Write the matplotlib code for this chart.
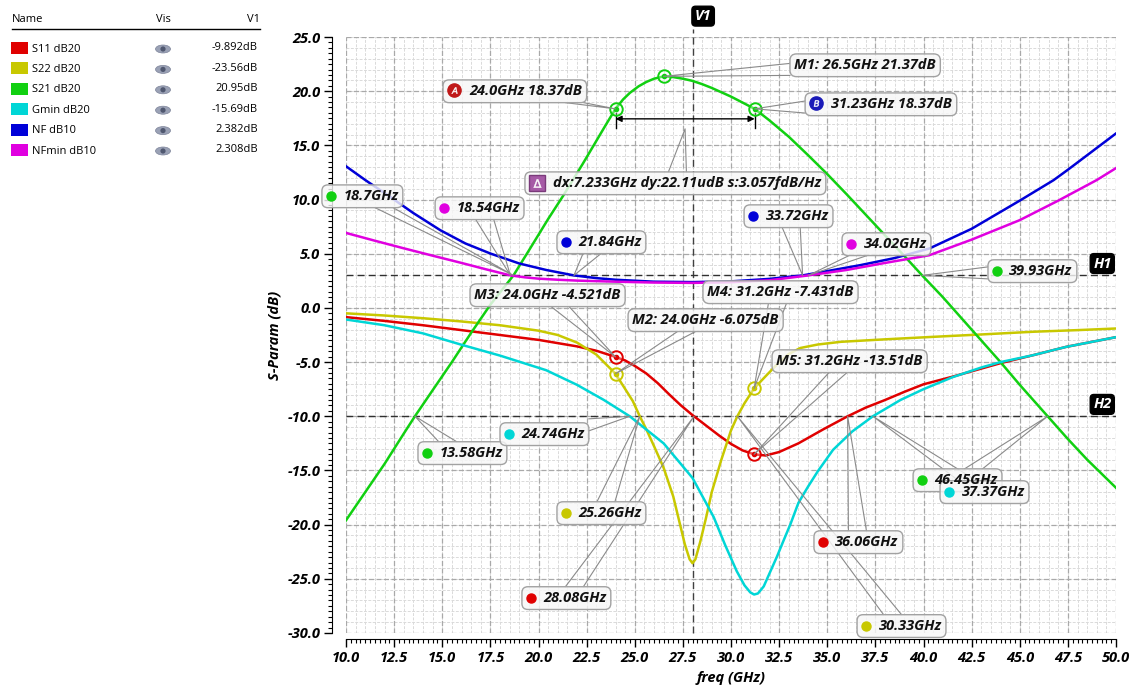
import numpy as np
import matplotlib.pyplot as plt
from matplotlib.ticker import MultipleLocator, FormatStrFormatter
from matplotlib.patches import Rectangle, Ellipse, Circle, FancyBboxPatch

plt.rcParams['font.family'] = ['Open Sans', 'DejaVu Sans']

# ---- traces (freq in GHz, value in dB) ----
s11_f = [10.0, 12.0, 14.0, 16.0, 18.0, 20.0, 22.0, 23.0, 24.0, 24.5, 25.0, 25.6, 26.2,
         26.8, 27.4, 28.0, 28.7, 29.4, 30.0, 30.6, 31.2, 31.8, 32.5, 33.5, 34.8, 36.06,
         37.0, 38.0, 39.0, 40.0, 41.5, 43.0, 44.0, 45.7, 47.4, 50.0]
s11_db = [-0.85, -1.2, -1.6, -2.05, -2.5, -2.95, -3.55, -3.95, -4.521, -4.85, -5.35, -6.05,
          -6.95, -8.0, -9.0, -9.892, -10.85, -11.8, -12.55, -13.15, -13.51, -13.62, -13.3,
          -12.5, -11.2, -10.0, -9.2, -8.5, -7.75, -7.05, -6.35, -5.6, -5.1, -4.36, -3.6,
          -2.7]

s22_f = [10.0, 12.0, 14.0, 16.0, 18.0, 20.0, 21.0, 22.0, 23.0, 24.0, 24.9, 25.26, 25.6,
         26.0, 26.5, 27.0, 27.3, 27.6, 27.85, 28.0, 28.15, 28.4, 28.7, 29.0, 29.5, 30.0,
         30.33, 30.7, 31.2, 31.8, 32.4, 33.0, 33.6, 34.5, 35.7, 38.0, 40.5, 43.0, 45.7,
         48.0, 50.0]
s22_db = [-0.5, -0.7, -0.95, -1.25, -1.6, -2.1, -2.5, -3.2, -4.3, -6.075, -8.6, -10.0,
          -11.2, -12.75, -14.75, -17.4, -19.6, -21.8, -23.2, -23.56, -23.2, -21.6, -19.4,
          -17.0, -14.0, -11.3, -10.0, -8.8, -7.431, -6.3, -5.2, -4.25, -3.7, -3.38, -3.13,
          -2.9, -2.67, -2.45, -2.2, -2.05, -1.9]

s21_f = [10.0, 11.0, 12.0, 13.0, 13.58, 14.5, 15.5, 16.5, 17.5, 18.7, 19.5, 20.5, 21.3,
         22.3, 23.0, 23.5, 24.0, 24.4, 24.75, 25.2, 25.6, 26.0, 26.5, 27.0, 27.5, 28.0,
         28.5, 29.0, 29.5, 30.0, 30.6, 31.23, 32.0, 33.0, 34.0, 35.0, 36.0, 37.0, 38.0,
         39.0, 39.93, 41.0, 42.5, 44.0, 45.0, 46.45, 47.5, 48.5, 50.0]
s21_db = [-19.6, -17.0, -14.4, -11.6, -10.0, -7.6, -5.0, -2.3, 0.3, 3.0, 5.3, 8.2, 10.4,
          13.3, 15.4, 16.9, 18.37, 19.25, 19.85, 20.45, 20.85, 21.15, 21.37, 21.3, 21.15,
          20.95, 20.65, 20.3, 19.9, 19.5, 18.95, 18.37, 17.3, 15.8, 14.1, 12.35, 10.5, 8.6,
          6.7, 4.8, 3.0, 1.0, -2.0, -5.0, -7.1, -10.0, -12.1, -14.0, -16.6]

gmin_f = [10.0, 12.0, 14.0, 15.2, 16.0, 18.0, 20.4, 22.0, 23.4, 24.74, 26.5, 28.0, 29.1,
          29.7, 30.3, 30.7, 31.0, 31.2, 31.4, 31.7, 32.0, 32.4, 32.7, 33.1, 33.5, 34.0,
          34.5, 35.3, 36.3, 37.37, 38.8, 40.0, 41.5, 43.0, 44.0, 45.7, 47.4, 50.0]
gmin_db = [-1.07, -1.6, -2.35, -2.98, -3.4, -4.4, -5.75, -7.1, -8.5, -10.0, -12.5, -15.69,
           -19.3, -21.9, -24.3, -25.6, -26.25, -26.45, -26.35, -25.7, -24.5, -22.9, -21.6,
           -19.9, -18.0, -16.5, -15.1, -13.1, -11.4, -10.0, -8.5, -7.5, -6.4, -5.5, -5.0,
           -4.36, -3.6, -2.7]

nf_f = [10.0, 11.0, 12.3, 13.5, 14.9, 16.2, 17.5, 19.0, 20.4, 21.84, 23.0, 24.0, 26.0,
        28.0, 30.0, 32.0, 33.72, 35.0, 36.7, 38.5, 40.3, 42.5, 45.0, 46.75, 47.5, 50.0]
nf_db = [13.07, 11.8, 10.24, 8.75, 7.17, 5.95, 5.02, 4.1, 3.5, 3.0, 2.75, 2.6, 2.42,
         2.382, 2.45, 2.68, 3.0, 3.4, 3.94, 4.6, 5.48, 7.3, 9.9, 11.78, 12.75, 16.1]

nfmin_f = [10.0, 11.5, 13.0, 14.5, 16.0, 17.3, 18.54, 19.3, 20.0, 21.0, 22.0, 24.0, 26.0,
           28.0, 30.0, 32.0, 34.02, 36.0, 38.0, 40.3, 42.5, 45.0, 47.0, 49.0, 50.0]
nfmin_db = [6.92, 6.2, 5.5, 4.82, 4.15, 3.55, 3.0, 2.82, 2.7, 2.6, 2.52, 2.42, 2.34,
            2.308, 2.37, 2.55, 3.0, 3.5, 4.15, 4.86, 6.3, 8.1, 9.9, 11.8, 12.9]

trace_names = ['S11 dB20', 'S22 dB20', 'S21 dB20', 'Gmin dB20', 'NF dB10', 'NFmin dB10']
trace_colors = ['#e00000', '#c8c800', '#11d011', '#00d6d6', '#0000d8', '#e000e0']
trace_freqs = [s11_f, s22_f, s21_f, gmin_f, nf_f, nfmin_f]
trace_vals = [s11_db, s22_db, s21_db, gmin_db, nf_db, nfmin_db]
v1_readout = ['-9.892dB', '-23.56dB', '20.95dB', '-15.69dB', '2.382dB', '2.308dB']

v1_freq = 28.0
h1_level = 3.0
h2_level = -10.0

# point markers: name, freq, value, trace index
point_names = ['M1', 'A', 'B', 'M3', 'M2', 'M4', 'M5']
point_freqs = [26.5, 24.0, 31.23, 24.0, 24.0, 31.2, 31.2]
point_vals = [21.37, 18.37, 18.37, -4.521, -6.075, -7.431, -13.51]
point_trace = [2, 2, 2, 0, 1, 1, 0]

# level crossings on H1 / H2: freq, level, trace index
cross_freqs = [18.7, 18.54, 21.84, 33.72, 34.02, 39.93,
               13.58, 24.74, 25.26, 28.08, 36.06, 46.45, 37.37, 30.33]
cross_levels = [3, 3, 3, 3, 3, 3, -10, -10, -10, -10, -10, -10, -10, -10]
cross_trace = [2, 5, 4, 4, 5, 2, 2, 3, 1, 0, 0, 2, 3, 1]

delta_text = 'dx:7.233GHz dy:22.11udB s:3.057fdB/Hz'

# text anchors (start of text, vertical centre) in axis units
point_label_pos = [(33.29, 22.39), (16.41, 19.99), (35.22, 18.79), (16.67, 1.17),
                   (24.88, -1.13), (28.77, 1.45), (32.36, -4.92)]
cross_label_pos = [(9.86, 10.3), (15.74, 9.2), (22.07, 6.06), (31.79, 8.46), (36.88, 5.88),
                   (44.46, 3.39), (14.85, -13.4), (19.11, -11.65), (22.07, -18.94),
                   (20.25, -26.78), (35.42, -21.62), (40.57, -15.9), (41.97, -17.0),
                   (37.66, -29.36)]
delta_label_pos = (20.77, 11.5)

W, H = 1135, 693
fig = plt.figure(figsize=(W / 100, H / 100), dpi=100)
fig.patch.set_facecolor('white')

# left-hand trace table drawn in pixel units
tbl = fig.add_axes([0, 0, 1, 1], zorder=0)
tbl.set_xlim(0, W)
tbl.set_ylim(H, 0)
tbl.axis('off')
tbl.text(12, 19, 'Name', fontsize=8, va='center')
tbl.text(163, 19, 'Vis', fontsize=8, va='center', ha='center')
tbl.text(260, 19, 'V1', fontsize=8, va='center', ha='right')
tbl.plot([12, 260], [29, 29], color='black', lw=1)
for i, (name, col, val) in enumerate(zip(trace_names, trace_colors, v1_readout)):
    yr = 48 + i * 20.4
    tbl.add_patch(Rectangle((11, yr - 6), 17, 12, facecolor=col, edgecolor='none'))
    tbl.text(32, yr + 1, name, fontsize=8, va='center')
    tbl.add_patch(Ellipse((163, yr + 1), 15, 8, facecolor='#9aa1b5', edgecolor='#7d849a', lw=0.5))
    tbl.add_patch(Circle((163, yr + 1), 2.6, facecolor='#505870', edgecolor='none'))
    tbl.text(258, yr, val, fontsize=8, va='center', ha='right')

ax = fig.add_axes([346 / W, 1 - 633 / H, 770 / W, 596 / H], zorder=1)
ax.set_xlim(10, 50)
ax.set_ylim(-30, 25)
ax.xaxis.set_major_locator(MultipleLocator(2.5))
ax.xaxis.set_minor_locator(MultipleLocator(0.25))
ax.yaxis.set_major_locator(MultipleLocator(5))
ax.yaxis.set_minor_locator(MultipleLocator(0.5))
ax.xaxis.set_major_formatter(FormatStrFormatter('%.1f'))
ax.yaxis.set_major_formatter(FormatStrFormatter('%.1f'))
for s in ['top', 'right']:
    ax.spines[s].set_visible(False)
ax.spines['left'].set_position(('outward', 10))
ax.spines['bottom'].set_position(('outward', 4.5))
ax.tick_params(which='major', direction='out', length=5.5, width=1, labelsize=10.5, pad=3)
ax.tick_params(which='minor', direction='out', length=3, width=0.8)
for lbl in ax.get_xticklabels() + ax.get_yticklabels():
    lbl.set_fontweight('bold')
    lbl.set_fontstyle('italic')

# background grid
for v in np.arange(10, 50.01, 0.5):
    ax.axvline(v, color='#dadada', lw=0.7, ls=(0, (3, 1.5)), zorder=0)
for v in np.arange(-30, 25.01, 1.0):
    ax.axhline(v, color='#dadada', lw=0.7, ls=(0, (3, 1.5)), zorder=0)
for v in np.arange(10, 50.01, 2.5):
    ax.axvline(v, color='#a9a9a9', lw=0.9, ls=(0, (4, 2)), zorder=0.5)
for v in np.arange(-30, 25.01, 5.0):
    ax.axhline(v, color='#a9a9a9', lw=0.9, ls=(0, (4, 2)), zorder=0.5)

ax.set_xlabel('freq (GHz)', fontsize=10.5, fontweight='bold', fontstyle='italic', labelpad=4)
ax.set_ylabel('S-Param (dB)', fontsize=10.5, fontweight='bold', fontstyle='italic', labelpad=4)

for f, v, c in zip(trace_freqs, trace_vals, trace_colors):
    ax.plot(f, v, color=c, lw=1.8, zorder=3, solid_joinstyle='round')

# cursors
ax.axvline(v1_freq, ymin=0, ymax=1.014, color='#404040', lw=1, ls=(0, (5, 3)), zorder=2,
           clip_on=False)
ax.axhline(h1_level, color='#303030', lw=1, ls=(0, (5, 3)), zorder=2)
ax.axhline(h2_level, color='#303030', lw=1, ls=(0, (5, 3)), zorder=2)
tag = dict(boxstyle='round,pad=0.2,rounding_size=0.25', facecolor='black', edgecolor='black')
ax.text(v1_freq + 0.12, 1.035, 'V1', transform=ax.get_xaxis_transform(), color='white',
        fontsize=10.5, fontweight='bold', fontstyle='italic', ha='left', va='center',
        bbox=tag, clip_on=False)
for lvl, name in [(h1_level, 'H1'), (h2_level, 'H2')]:
    ax.text(0.994, lvl + 0.45, name, transform=ax.get_yaxis_transform(), color='white',
            fontsize=10.5, fontweight='bold', fontstyle='italic', ha='right', va='bottom',
            bbox=tag, clip_on=False, zorder=7)

# marker rings
for f, v, ti in zip(point_freqs, point_vals, point_trace):
    c = trace_colors[ti]
    ax.plot(f, v, 'o', ms=9, mfc=(1, 1, 1, 0.35), mec=c, mew=1.4, zorder=4.5)
    ax.plot(f, v, 'o', ms=3, mfc=c, mec=c, zorder=4.6)

box_face = (0.97, 0.97, 0.97, 0.82)
box_style = dict(boxstyle='round,pad=0.3,rounding_size=0.45', facecolor=box_face,
                 edgecolor='#a2a2a2', lw=1)
txt_kw = dict(fontsize=10.5, fontweight='bold', fontstyle='italic', ha='left', va='center',
              zorder=5, clip_on=False, color='#111111')

labels = []  # (text artist, target, icon kind, colour, left room in px)
for name, f, v, ti, pos in zip(point_names, point_freqs, point_vals, point_trace, point_label_pos):
    if name in ('A', 'B'):
        s = '%.4gGHz %.4gdB' % (f, v)
        s = s.replace('24GHz', '24.0GHz')
        icon, room = name, 22
    else:
        s = '%s: %.1fGHz %.4gdB' % (name, f, v)
        icon, room = None, 0
    t = ax.text(pos[0], pos[1], s, bbox=dict(box_style), **txt_kw)
    labels.append((t, (f, v), icon, '#c01818' if name == 'A' else '#1a1ab8', room))

for f, lvl, ti, pos in zip(cross_freqs, cross_levels, cross_trace, cross_label_pos):
    t = ax.text(pos[0], pos[1], '%gGHz' % f, bbox=dict(box_style), **txt_kw)
    labels.append((t, (f, lvl), 'dot', trace_colors[ti], 17))

# delta arrow between A and B
fa, fb = point_freqs[1], point_freqs[2]
va_ = point_vals[1]
t = ax.text(delta_label_pos[0], delta_label_pos[1], delta_text, bbox=dict(box_style), **txt_kw)
labels.append((t, None, 'delta', '#a65aa6', 24))

fig.canvas.draw()
rend = fig.canvas.get_renderer()
inv = ax.transData.inverted()


def to_data(px, py):
    return inv.transform((px, py))


# widen the boxes on the left to make room for the icons
boxes = []
for t, target, icon, col, room in labels:
    bb = t.get_bbox_patch().get_window_extent(rend)
    if room:
        t.set_bbox(None)
        x0, y0 = to_data(bb.x0 - room, bb.y0)
        x1, y1 = to_data(bb.x1, bb.y1)
        wpx, hpx = bb.width + room, bb.height
        patch = FancyBboxPatch((x0, y0), x1 - x0, y1 - y0,
                               boxstyle='round,pad=0,rounding_size=%g' % ((x1 - x0) * 6 / wpx),
                               mutation_aspect=(y1 - y0) / hpx * wpx / (x1 - x0),
                               facecolor=box_face, edgecolor='#a2a2a2',
                               lw=1, zorder=4.9, clip_on=False)
        ax.add_patch(patch)
    boxes.append((bb.x0 - room, bb.y0, bb.x1, bb.y1))

# arrow sits 10 px below the A/B level
ya_disp = ax.transData.transform((fa, va_))[1] - 10
yarr = to_data(0, ya_disp)[1]
ax.annotate('', xy=(fb, yarr), xytext=(fa, yarr),
            arrowprops=dict(arrowstyle='<|-|>', color='black', lw=1, mutation_scale=9,
                            shrinkA=0, shrinkB=0), zorder=4)
for fx in (fa, fb):
    y0 = to_data(0, ya_disp + 6)[1]
    y1 = to_data(0, ya_disp - 9)[1]
    ax.plot([fx, fx], [y0, y1], color='black', lw=1, zorder=4)
delta_target = ax.transData.transform(((fa + fb) / 2, yarr))
delta_target = (delta_target[0], delta_target[1] - 10)

for (t, target, icon, col, room), (bx0, by0, bx1, by1) in zip(labels, boxes):
    if target is None:
        tx, ty = delta_target
    else:
        tx, ty = ax.transData.transform(target)
    cx, cy = (bx0 + bx1) / 2, (by0 + by1) / 2
    dx, dy = tx - cx, ty - cy
    hw, hh = (bx1 - bx0) / 2, (by1 - by0) / 2
    kx = hw / abs(dx) if dx else np.inf
    ky = hh / abs(dy) if dy else np.inf
    if kx < ky:
        ex, ey = cx + dx * kx, cy + dy * kx
        d = min(6, hh - 3)
        p1, p2 = (ex, ey - d), (ex, ey + d)
    else:
        ex, ey = cx + dx * ky, cy + dy * ky
        ex = min(max(ex, bx0 + 12), bx1 - 12)
        p1, p2 = (ex - 9, ey), (ex + 9, ey)
    pts = np.array([to_data(*p1), to_data(tx, ty), to_data(*p2)])
    ax.plot(pts[:, 0], pts[:, 1], color='#8a8a8a', lw=0.8, zorder=4.8, clip_on=False)

    if icon == 'dot':
        dxy = to_data(bx0 + 9, cy)
        ax.plot(*dxy, 'o', ms=6.5, mfc=col, mec=col, zorder=6, clip_on=False)
    elif icon in ('A', 'B'):
        dxy = to_data(bx0 + 11, cy + 1)
        ax.plot(*dxy, 'o', ms=9.5, mfc=col, mec=col, zorder=6, clip_on=False)
        ax.plot(*dxy, marker='$%s$' % icon, ms=4.5, mfc='white', mec='white', mew=0.3,
                zorder=7, clip_on=False)
    elif icon == 'delta':
        dxy = to_data(bx0 + 12, cy)
        ax.plot(*dxy, 's', ms=11, mfc=col, mec='#7a3a7a', zorder=6, clip_on=False)
        ax.plot(*dxy, marker='$\\Delta$', ms=6, mfc='white', mec='white', mew=0.3,
                zorder=7, clip_on=False)

fig.savefig('out.png', dpi=100)
